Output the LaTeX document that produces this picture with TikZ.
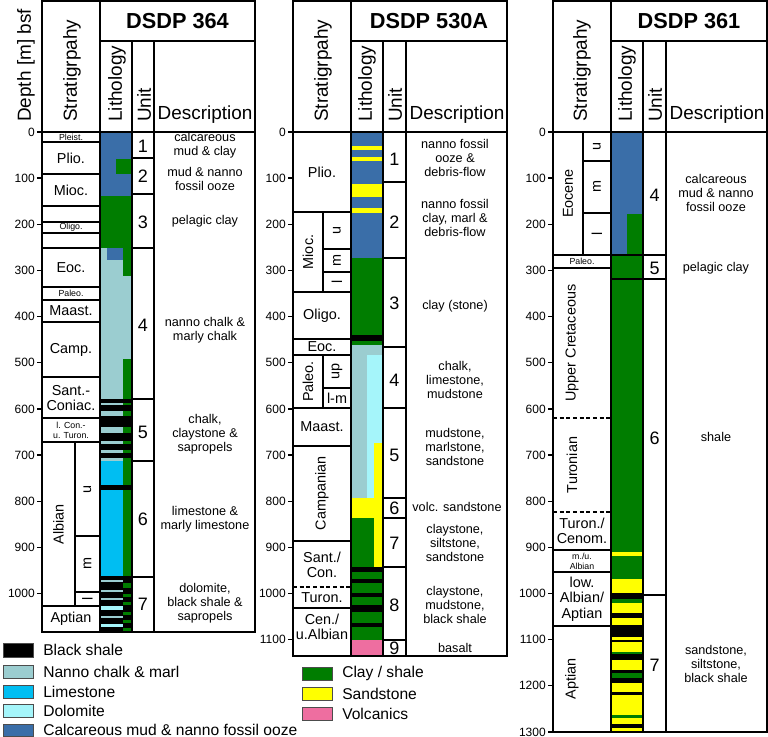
\documentclass[tikz,border=0pt]{standalone}
\usepackage{fontspec}
\setmainfont{Liberation Sans}
\usepackage{tikz}
\usetikzlibrary{positioning}

\definecolor{calcmud}{RGB}{58,110,168}
\definecolor{clay}{RGB}{0,125,0}
\definecolor{chalk}{RGB}{155,205,208}
\definecolor{limestone}{RGB}{0,190,242}
\definecolor{dolomite}{RGB}{165,245,250}
\definecolor{sand}{RGB}{255,255,0}
\definecolor{volc}{RGB}{238,110,160}

\tikzstyle{rule} = [draw=black, line width=1pt]
\tikzstyle{hdr} = [font=\fontsize{14.2}{16}\selectfont, rotate=90, anchor=west, inner sep=0pt]
\tikzstyle{sitetitle} = [font=\fontsize{16.3}{18}\selectfont\bfseries, inner sep=0pt]
\tikzstyle{unitno} = [font=\fontsize{13.5}{15}\selectfont, inner sep=0pt]
\tikzstyle{desc} = [font=\fontsize{9.5}{10.5}\selectfont, align=center, inner sep=0pt]
\tikzstyle{strat} = [font=\fontsize{10.8}{11.5}\selectfont, align=center, inner sep=0pt]
\tikzstyle{smalllab} = [font=\fontsize{6.6}{7.6}\selectfont, align=center, inner sep=0pt]
\tikzstyle{depthlab} = [font=\fontsize{9}{10}\selectfont, anchor=east, inner sep=0pt]
\tikzstyle{legtext} = [font=\fontsize{11.7}{13}\selectfont, anchor=west, inner sep=0pt]
\tikzstyle{swatch} = [draw=black!70, line width=0.6pt]

\begin{document}
\begin{tikzpicture}[x=0.75pt, y=-0.75pt]
    \useasboundingbox (0,0) rectangle (768,737);

    % ---- DSDP 364 lithology
    \fill[calcmud] (100,132) rectangle (132,196);
    \fill[clay] (116,159) rectangle (132,174);
    \fill[clay] (100,196) rectangle (132,248);
    \fill[chalk] (100,248) rectangle (132,461);
    \fill[calcmud] (107,248) rectangle (123,260);
    \fill[clay] (123,248) rectangle (132,276);
    \fill[clay] (123,359) rectangle (132,461);
    \foreach \a/\b in {399/403,405/411,416/427,433/441,444/450,453/458}
        \fill[black] (100,\a) rectangle (132,\b);
    \fill[limestone] (100,461) rectangle (123,577);
    \fill[clay] (123,461) rectangle (132,577);
    \fill[black] (100,485) rectangle (132,490);
    \fill[black] (100,576) rectangle (132,632);
    \foreach \a/\b in {580/582,590/592,598/600,616/618}
        \fill[chalk] (100,\a) rectangle (123,\b);
    \foreach \a/\b in {606/610,624/627}
        \fill[dolomite] (100,\a) rectangle (123,\b);
    \foreach \a/\b in {583/588,594/597,602/605,612/615,620/623,628/631}
        \fill[clay] (123,\a) rectangle (132,\b);

    % ---- DSDP 530A lithology
    \fill[calcmud] (351,132) rectangle (383,258);
    \foreach \a/\b in {146/150,157/161,184/197,208/213}
        \fill[sand] (351,\a) rectangle (383,\b);
    \fill[clay] (351,258) rectangle (383,345);
    \fill[black] (351,335) rectangle (383,341);
    \fill[chalk] (351,345) rectangle (383,498);
    \fill[dolomite] (367,355) rectangle (383,498);
    \fill[sand] (374,443) rectangle (383,498);
    \fill[sand] (351,498) rectangle (383,518);
    \fill[clay] (351,518) rectangle (383,640);
    \fill[sand] (374,518) rectangle (383,567);
    \foreach \a/\b in {567/572,579/583,593/597,605/612,623/627}
        \fill[black] (351,\a) rectangle (383,\b);
    \fill[volc] (351,640) rectangle (383,656);

    % ---- DSDP 361 lithology
    \fill[calcmud] (611,132) rectangle (643,255);
    \fill[clay] (627,214) rectangle (643,255);
    \fill[clay] (611,255) rectangle (643,579);
    \fill[sand] (611,552) rectangle (643,556);
    \fill[sand] (611,579) rectangle (643,732);
    \foreach \a/\b in {593/599,613/618,625/637,640/642,654/660,670/673,678/683,692/695,724/728}
        \fill[black] (611,\a) rectangle (643,\b);
    \foreach \a/\b in {599/603,652/654,673/678,715/718}
        \fill[clay] (611,\a) rectangle (643,\b);

    % ---- DSDP 364 frame
    \draw[rule] (42,1) -- (255,1) -- (255,632) -- (42,632) -- cycle;
    \draw[rule] (100,1) -- (100,632);
    \draw[rule] (100,41) -- (255,41);
    \draw[rule] (132,41) -- (132,632);
    \draw[rule] (154,41) -- (154,632);
    \draw[rule] (42,132) -- (255,132);
    \foreach \y in {142,174,206,222,233,248,287,300,322,377,418,442,606}
        \draw[rule] (42,\y) -- (100,\y);
    \draw[rule] (75,442) -- (75,606);
    \draw[rule] (75,536) -- (100,536);
    \draw[rule] (75,592) -- (100,592);
    \foreach \y in {158,194,248,399,461,577}
        \draw[rule] (132,\y) -- (154,\y);
    \foreach \d in {0,100,...,1000} {
        \draw[rule] (37,{132+0.4615*\d}) -- (42,{132+0.4615*\d});
        \node[depthlab] (a\d) at (35,{132+0.4615*\d}) {\d};
    }

    % ---- DSDP 530A frame
    \draw[rule] (293,1) -- (507,1) -- (507,656) -- (293,656) -- cycle;
    \draw[rule] (351,1) -- (351,656);
    \draw[rule] (351,41) -- (507,41);
    \draw[rule] (383,41) -- (383,656);
    \draw[rule] (406,41) -- (406,656);
    \draw[rule] (293,132) -- (507,132);
    \foreach \y in {212,292,339,355,408,446,541,608}
        \draw[rule] (293,\y) -- (351,\y);
    \draw[rule, dash pattern=on 3pt off 2pt] (293,587) -- (351,587);
    \draw[rule] (323,212) -- (323,292);
    \draw[rule] (323,249) -- (351,249);
    \draw[rule] (323,272) -- (351,272);
    \draw[rule] (323,355) -- (323,408);
    \draw[rule] (323,388) -- (351,388);
    \foreach \y in {182,258,347,408,498,518,567,640}
        \draw[rule] (383,\y) -- (406,\y);
    \foreach \d in {0,100,...,1100} {
        \draw[rule] (288,{132+0.4615*\d}) -- (293,{132+0.4615*\d});
        \node[depthlab] (b\d) at (286,{132+0.4615*\d}) {\d};
    }

    % ---- DSDP 361 frame
    \draw[rule] (553,1) -- (767,1) -- (767,732) -- (553,732) -- cycle;
    \draw[rule] (611,1) -- (611,732);
    \draw[rule] (611,41) -- (767,41);
    \draw[rule] (643,41) -- (643,732);
    \draw[rule] (666,41) -- (666,732);
    \draw[rule] (553,132) -- (767,132);
    \foreach \y in {255,268,550,572,626}
        \draw[rule] (553,\y) -- (611,\y);
    \draw[rule, dash pattern=on 3pt off 2pt] (553,418) -- (611,418);
    \draw[rule, dash pattern=on 3pt off 2pt] (553,512) -- (611,512);
    \draw[rule] (583,132) -- (583,255);
    \draw[rule] (583,161) -- (611,161);
    \draw[rule] (583,213) -- (611,213);
    \draw[rule] (611,255) -- (666,255);
    \draw[rule] (611,279) -- (666,279);
    \draw[rule] (643,595) -- (666,595);
    \foreach \d in {0,100,...,1300} {
        \draw[rule] (548,{132+0.4615*\d}) -- (553,{132+0.4615*\d});
        \node[depthlab] (c\d) at (546,{132+0.4615*\d}) {\d};
    }

    % ---- headers
    \node[hdr] (depthhdr) at (26,122) {Depth [m] bsf};
    \node[hdr] (strathdrA) at (72,122) {Stratigrpahy};
    \node[hdr] (lithhdrA) at (117,122) {Lithology};
    \node[hdr] (unithdrA) at (144,122) {Unit};
    \node[font=\fontsize{14.2}{16}\selectfont, anchor=base, inner sep=0pt] (deschdrA) at (205,120) {Description};
    \node[sitetitle] (siteA) at (177.5,21) {DSDP 364};

    \node[hdr] (strathdrB) at (323,122) {Stratigrpahy};
    \node[hdr] (lithhdrB) at (367,122) {Lithology};
    \node[hdr] (unithdrB) at (395,122) {Unit};
    \node[font=\fontsize{14.2}{16}\selectfont, anchor=base, inner sep=0pt] (deschdrB) at (457,120) {Description};
    \node[sitetitle] (siteB) at (429,21) {DSDP 530A};

    \node[hdr] (strathdrC) at (582,122) {Stratigrpahy};
    \node[hdr] (lithhdrC) at (627,122) {Lithology};
    \node[hdr] (unithdrC) at (655,122) {Unit};
    \node[font=\fontsize{14.2}{16}\selectfont, anchor=base, inner sep=0pt] (deschdrC) at (717,120) {Description};
    \node[sitetitle] (siteC) at (689,21) {DSDP 361};

    % ---- DSDP 364 stratigraphy
    \node[smalllab] (pleistA) at (71,137) {Pleist.};
    \node[strat] (plioA) at (71,158) {Plio.};
    \node[strat] (miocA) at (71,190) {Mioc.};
    \node[smalllab] (oligoA) at (71,227.5) {Oligo.};
    \node[strat] (eocA) at (71,268) {Eoc.};
    \node[smalllab] (paleoA) at (71,293.5) {Paleo.};
    \node[strat] (maastA) at (71,311) {Maast.};
    \node[strat] (campA) at (71,350) {Camp.};
    \node[strat] (santA) at (71,398) {Sant.-\\Coniac.};
    \node[smalllab] (conA) at (71,430) {l. Con.-\\u. Turon.};
    \node[strat, rotate=90] (albianA) at (58.5,524) {Albian};
    \node[strat, rotate=90] (albuA) at (87.5,489) {u};
    \node[strat, rotate=90] (albmA) at (87.5,564) {m};
    \node[strat, rotate=90] (alblA) at (87.5,599) {l};
    \node[strat] (aptianA) at (71,619) {Aptian};

    % ---- DSDP 530A stratigraphy
    \node[strat] (plioB) at (322,172) {Plio.};
    \node[strat, rotate=90] (miocB) at (308,252) {Mioc.};
    \node[strat, rotate=90] (miocuB) at (337,230.5) {u};
    \node[strat, rotate=90] (miocmB) at (337,260.5) {m};
    \node[strat, rotate=90] (mioclB) at (337,282) {l};
    \node[strat] (oligoB) at (322,315.5) {Oligo.};
    \node[strat] (eocB) at (322,347) {Eoc.};
    \node[strat, rotate=90] (paleoB) at (308,381.5) {Paleo.};
    \node[strat, rotate=90] (paleoupB) at (337,371.5) {up};
    \node[strat] (paleolmB) at (337,398) {l-m};
    \node[strat] (maastB) at (322,427) {Maast.};
    \node[strat, rotate=90] (campB) at (322,493.5) {Campanian};
    \node[strat] (santB) at (322,565) {Sant./\\Con.};
    \node[strat] (turonB) at (322,598) {Turon.};
    \node[strat] (cenB) at (322,627) {Cen./\\u.Albian};

    % ---- DSDP 361 stratigraphy
    \node[strat, rotate=90] (eoceneC) at (568,193.5) {Eocene};
    \node[strat, rotate=90] (eocuC) at (597,146.5) {u};
    \node[strat, rotate=90] (eocmC) at (597,187) {m};
    \node[strat, rotate=90] (eoclC) at (597,234) {l};
    \node[smalllab] (paleoC) at (582,261.5) {Paleo.};
    \node[strat, rotate=90] (uppercretC) at (572,343) {Upper Cretaceous};
    \node[strat, rotate=90] (turonianC) at (572,465) {Turonian};
    \node[strat] (turcenC) at (582,531) {Turon./\\Cenom.};
    \node[smalllab] (albianC) at (582,561) {m./u.\\Albian};
    \node[strat] (lowalbC) at (582,599) {low.\\Albian/\\Aptian};
    \node[strat, rotate=90] (aptianC) at (572,679) {Aptian};

    % ---- units
    \foreach \n/\y in {1/146,2/176,3/222,4/325,5/432,6/519,7/604}
        \node[unitno] (uA\n) at (143,\y) {\n};
    \foreach \n/\y in {1/159,2/222,3/303,4/380,5/455,6/508,7/543,8/605,9/648}
        \node[unitno] (uB\n) at (394.5,\y) {\n};
    \foreach \n/\y in {4/195,5/268,6/438,7/665}
        \node[unitno] (uC\n) at (654.5,\y) {\n};

    % ---- descriptions
    \node[desc] (dA1) at (205,145.5) {calcareous\\mud \& clay};
    \node[desc] (dA2) at (205,178.5) {mud \& nanno\\fossil ooze};
    \node[desc] (dA3) at (205,221) {pelagic clay};
    \node[desc] (dA4) at (205,330) {nanno chalk \&\\marly chalk};
    \node[desc] (dA5) at (205,434) {chalk,\\claystone \&\\sapropels};
    \node[desc] (dA6) at (205,519) {limestone \&\\marly limestone};
    \node[desc] (dA7) at (205,603) {dolomite,\\black shale \&\\sapropels};

    \node[desc] (dB1) at (455,157.5) {nanno fossil\\ooze \&\\debris-flow};
    \node[desc] (dB2) at (455,218) {nanno fossil\\clay, marl \&\\debris-flow};
    \node[desc] (dB3) at (455,306) {clay (stone)};
    \node[desc] (dB4) at (455,380) {chalk,\\limestone,\\mudstone};
    \node[desc] (dB5) at (455,447) {mudstone,\\marlstone,\\sandstone};
    \node[desc] (dB6) at (457,507) {volc. sandstone};
    \node[desc] (dB7) at (455,543) {claystone,\\siltstone,\\sandstone};
    \node[desc] (dB8) at (455,605) {claystone,\\mudstone,\\black shale};
    \node[desc] (dB9) at (455,648) {basalt};

    \node[desc] (dC4) at (716,193) {calcareous\\mud \& nanno\\fossil ooze};
    \node[desc] (dC5) at (716,268) {pelagic clay};
    \node[desc] (dC6) at (716,437) {shale};
    \node[desc] (dC7) at (716,664) {sandstone,\\siltstone,\\black shale};

    % ---- legend
    \draw[swatch, fill=black] (3,643) rectangle (33,657);
    \draw[swatch, fill=chalk] (3,665) rectangle (33,678);
    \draw[swatch, fill=limestone] (3,685) rectangle (33,698);
    \draw[swatch, fill=dolomite] (3,704) rectangle (33,717);
    \draw[swatch, fill=calcmud] (3,724) rectangle (33,736);
    \node[legtext] (lblack) at (43,650) {Black shale};
    \node[legtext] (lchalk) at (43,671.5) {Nanno chalk \& marl};
    \node[legtext] (llime) at (43,691.5) {Limestone};
    \node[legtext] (ldolo) at (43,710.5) {Dolomite};
    \node[legtext] (lcalc) at (43,730) {Calcareous mud \& nanno fossil ooze};

    \draw[swatch, fill=clay] (302,667) rectangle (332,680);
    \draw[swatch, fill=sand] (302,687) rectangle (332,700);
    \draw[swatch, fill=volc] (302,707) rectangle (332,720);
    \node[legtext] (lclay) at (342,673.5) {Clay / shale};
    \node[legtext] (lsand) at (342,693.5) {Sandstone};
    \node[legtext] (lvolc) at (342,713.5) {Volcanics};
\end{tikzpicture}
\end{document}
